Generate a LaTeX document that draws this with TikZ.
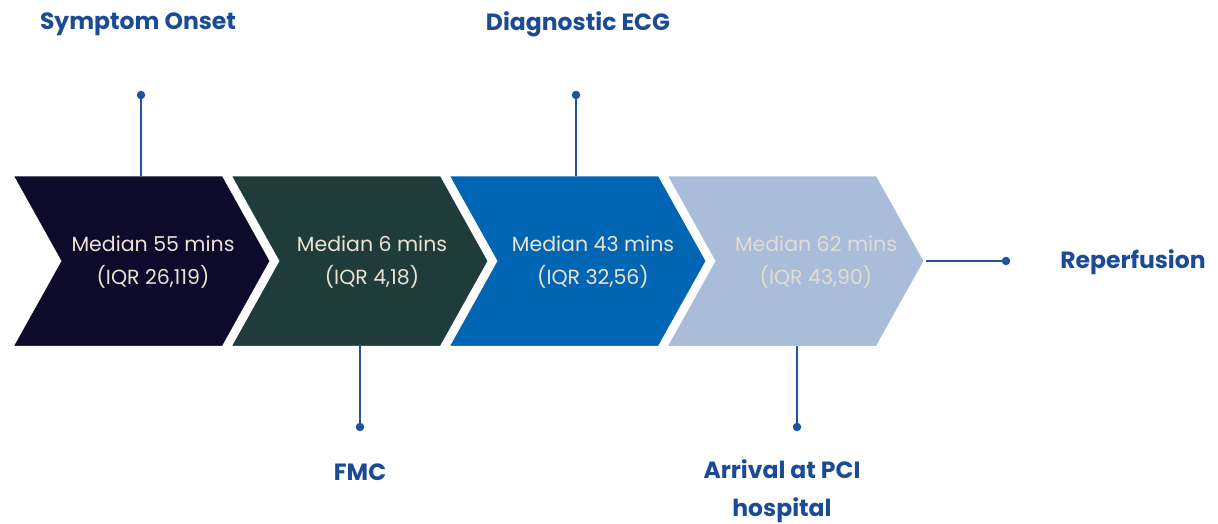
\documentclass[tikz,border=0pt]{standalone}
\usepackage{fontspec}
\setmainfont{Poppins}
\begin{document}
\begin{tikzpicture}[x=1pt,y=-1pt,
  chev/.style={draw=white,line width=2.5pt,line join=miter},
  steptext/.style={text=textbeige,font=\fontsize{20.5}{33}\selectfont,align=center,inner sep=0pt},
  label/.style={text=labelblue,font=\bfseries\fontsize{23.5}{38}\selectfont,align=center,inner sep=0pt},
  link/.style={draw=lineblue,line width=2pt},
  dot/.style={circle,fill=lineblue,inner sep=0pt,minimum size=8.5pt}]
\definecolor{navy}{HTML}{0D0A2B}
\definecolor{forest}{HTML}{1F3B3A}
\definecolor{midblue}{HTML}{0066B3}
\definecolor{paleblue}{HTML}{A9BCD9}
\definecolor{textbeige}{HTML}{ECE3D3}
\definecolor{labelblue}{HTML}{1B4B96}
\definecolor{lineblue}{HTML}{1F529F}
\useasboundingbox (0,0) rectangle (1218,524);
% chevrons: left edge L, body 211 wide, tip 48 deep
\foreach \L/\col in {12/navy,230/forest,448/midblue,666/paleblue}{
  \fill[\col,chev] (\L,175) -- (\L+211,175) -- (\L+259,261) -- (\L+211,347)
    -- (\L,347) -- (\L+48,261) -- cycle;
}
\node[steptext] (s1) at (153,262) {Median 55 mins\\(IQR 26,119)};
\node[steptext] (s2) at (372,262) {Median 6 mins\\(IQR 4,18)};
\node[steptext] (s3) at (593,262) {Median 43 mins\\(IQR 32,56)};
\node[steptext,text=textbeige!85!paleblue] (s4) at (816,262) {Median 62 mins\\(IQR 43,90)};
% connector anchors on the chevron edges
\coordinate (e1) at (141,176);
\coordinate (e2) at (360,346);
\coordinate (e3) at (576,176);
\coordinate (e4) at (797,346);
\coordinate (e5) at (926,261);
% end dots
\node[dot] (d1) at (141,95) {};
\node[dot] (d2) at (360,427) {};
\node[dot] (d3) at (576,95) {};
\node[dot] (d4) at (797,427) {};
\node[dot] (d5) at (1006,261) {};
\draw[link] (e1) -- (d1);
\draw[link] (e2) -- (d2);
\draw[link] (e3) -- (d3);
\draw[link] (e4) -- (d4);
\draw[link] (e5) -- (d5);
% milestone labels
\node[label] (l1) at (138,24) {Symptom Onset};
\node[label] (l2) at (360,472) {FMC};
\node[label] (l3) at (578,24) {Diagnostic ECG};
\node[label] (l4) at (782,491) {Arrival at PCI\\hospital};
\node[label] (l5) at (1133,262) {Reperfusion};
\end{tikzpicture}
\end{document}
